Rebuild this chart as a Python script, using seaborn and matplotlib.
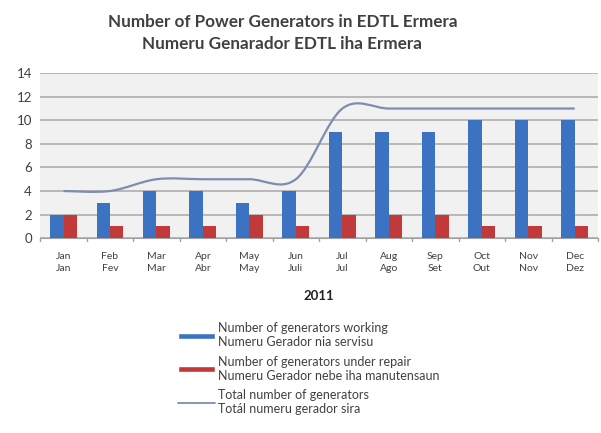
import numpy as np
import pandas as pd
import matplotlib
matplotlib.use("Agg")
import matplotlib.pyplot as plt
from matplotlib.path import Path
from matplotlib.patches import PathPatch
from matplotlib.lines import Line2D
from matplotlib.patches import Patch
import seaborn as sns

# data
months = ["Jan\nJan", "Feb\nFev", "Mar\nMar", "Apr\nAbr", "May\nMay", "Jun\nJuli",
          "Jul\nJul", "Aug\nAgo", "Sep\nSet", "Oct\nOut", "Nov\nNov", "Dec\nDez"]
working = [2, 3, 4, 4, 3, 4, 9, 9, 9, 10, 10, 10]
repair = [2, 1, 1, 1, 2, 1, 2, 2, 2, 1, 1, 1]
total = [4, 4, 5, 5, 5, 5, 11, 11, 11, 11, 11, 11]

lbl_work = "Number of generators working\nNumeru Gerador nia servisu"
lbl_rep = "Number of generators under repair\nNumeru Gerador nebe iha manutensaun"
lbl_tot = "Total number of generators\nTotál numeru gerador sira"

BLUE = "#3b73c2"
RED = "#c2393a"
LINE = "#7d8db0"

sns.set_style("white")
plt.rcParams["font.family"] = ["Lato", "DejaVu Sans"]

df = pd.DataFrame({
    "month": months * 2,
    "value": working + repair,
    "series": [lbl_work] * 12 + [lbl_rep] * 12,
})

fig = plt.figure(figsize=(6.01, 4.33), dpi=100)
ax = fig.add_axes([0.067, 0.450, 0.928, 0.381])
ax.set_facecolor("#f1f1f1")

sns.barplot(data=df, x="month", y="value", hue="series", palette=[BLUE, RED],
            width=0.58, gap=0, saturation=1, linewidth=0, ax=ax, legend=False,
            zorder=3)

# smoothed total line (Excel-style bezier through the data points)
x = np.arange(len(total), dtype=float)
y = np.array(total, dtype=float)
verts = [(x[0], y[0])]
codes = [Path.MOVETO]
for i in range(len(x) - 1):
    p0 = (x[max(i - 1, 0)], y[max(i - 1, 0)])
    p1 = (x[i], y[i])
    p2 = (x[i + 1], y[i + 1])
    p3 = (x[min(i + 2, len(x) - 1)], y[min(i + 2, len(x) - 1)])
    c1 = (p1[0] + (p2[0] - p0[0]) / 6, p1[1] + (p2[1] - p0[1]) / 6)
    c2 = (p2[0] - (p3[0] - p1[0]) / 6, p2[1] - (p3[1] - p1[1]) / 6)
    verts += [c1, c2, p2]
    codes += [Path.CURVE4] * 3
ax.add_patch(PathPatch(Path(verts, codes), facecolor="none", edgecolor=LINE,
                       lw=1.6, zorder=4))

ax.set_ylim(0, 14)
ax.set_yticks(range(0, 15, 2))
ax.set_xlim(-0.5, 11.5)
ax.yaxis.grid(True, color="#a9a9a9", lw=1.1, zorder=0)
ax.set_axisbelow(True)
for s in ["top", "right", "left"]:
    ax.spines[s].set_visible(False)
ax.spines["bottom"].set_color("#a0a0a0")
ax.tick_params(axis="y", labelsize=9.5, colors="#404040", length=0, pad=6)
ax.tick_params(axis="x", labelsize=7.5, colors="#404040", length=0, pad=10)
for t in ax.get_xticklabels():
    t.set_linespacing(1.45)
ax.set_xlabel("2011", fontsize=9.5, fontweight="bold", color="#222222", labelpad=12)
ax.set_ylabel("")
for b in np.arange(-0.5, 12, 1):
    ax.plot([b, b], [0, -0.25], color="#a0a0a0", lw=1, clip_on=False)

fig.suptitle("Number of Power Generators in EDTL Ermera\nNumeru Genarador EDTL iha Ermera",
             fontsize=12.3, fontweight="bold", color="#404040", x=0.47, y=0.968,
             linespacing=1.45)

handles = [Patch(facecolor=BLUE), Patch(facecolor=RED), Line2D([], [], color=LINE, lw=1.3)]
fig.legend(handles, [lbl_work, lbl_rep, lbl_tot], loc="upper left",
           bbox_to_anchor=(0.277, 0.282), frameon=False, fontsize=9,
           handlelength=3.0, handleheight=0.35, labelspacing=0.6, handletextpad=0.2,
           labelcolor="#404040")

fig.savefig("out.png", dpi=100)
